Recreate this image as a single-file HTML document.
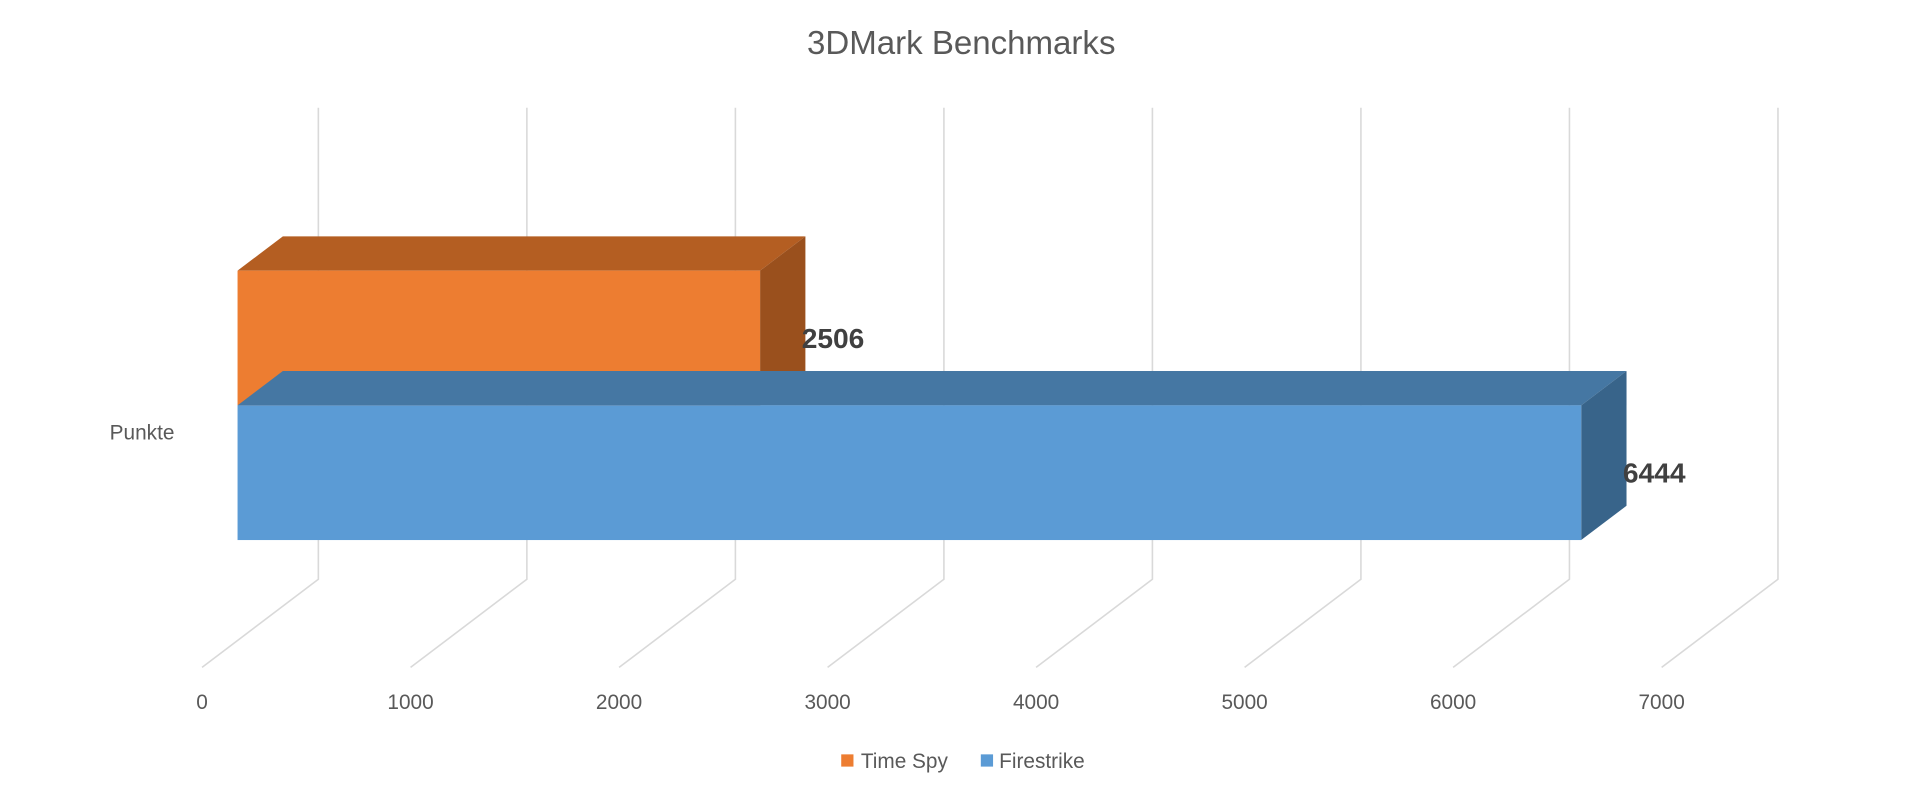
<!DOCTYPE html>
<html><head><meta charset="utf-8"><style>
html,body{margin:0;padding:0;background:#fff;}
svg{display:block;font-family:"Liberation Sans",sans-serif;}
</style></head><body>
<svg id="chart" width="1920" height="796" viewBox="0 0 1568 650" preserveAspectRatio="none" xmlns="http://www.w3.org/2000/svg">
<text x="785" y="44" text-anchor="middle" font-size="27" fill="#595959">3DMark Benchmarks</text>
<g id="grid"></g>
<g id="ticks"></g>
<g id="bars"></g>
<text x="116" y="359" text-anchor="middle" font-size="17" fill="#595959">Punkte</text>
<g>
<rect x="687" y="616" width="10" height="10" fill="#ED7D31"/>
<text x="703" y="627" font-size="17" fill="#595959">Time Spy</text>
<rect x="801" y="616" width="10" height="10" fill="#5B9BD5"/>
<text x="816" y="627" font-size="17" fill="#595959">Firestrike</text>
</g>
</svg>
<script>
const ticks = [0,1000,2000,3000,4000,5000,6000,7000];
const series = ["Time Spy","Firestrike"];
const values = [2506,6444];
const NS="http://www.w3.org/2000/svg";
const x0=165, pxPer=1192/7000, dx=95, dy=-72;
function xs(v){return x0+v*pxPer;}
function mk(t,a,p){const e=document.createElementNS(NS,t);for(const k in a)e.setAttribute(k,a[k]);p.appendChild(e);return e;}
const grid=document.getElementById('grid'), tk=document.getElementById('ticks'), bars=document.getElementById('bars');
ticks.forEach(v=>{
 const x=xs(v);
 const l=mk('polyline',{points:`${x},545 ${x+dx},${545+dy} ${x+dx},88`,fill:'none',stroke:'#d9d9d9','stroke-width':1.3},grid);
 
 
 const t=mk('text',{x:x,y:579,'text-anchor':'middle','font-size':17,fill:'#595959'},tk);
 t.textContent=v;
 
 
});
const cols=[["#ED7D31","#B45E22","#9A501D"],["#5B9BD5","#4577A3","#38648A"]];
const bx=29, bdx=37, bdy=-28, tops=[221,331], h=110;
values.forEach((v,i)=>{
 const L=xs(0)+bx, R=xs(v)+bx, T=tops[i], B=T+h;
 const g=mk('g',{},bars);
 
 
 mk('polygon',{points:`${L},${T} ${L+bdx},${T+bdy} ${R+bdx},${T+bdy} ${R},${T}`,fill:cols[i][1]},g);
 mk('polygon',{points:`${R},${T} ${R+bdx},${T+bdy} ${R+bdx},${B+bdy} ${R},${B}`,fill:cols[i][2]},g);
 mk('rect',{x:L,y:T,width:R-L,height:h,fill:cols[i][0]},g);
 const t=mk('text',{x:R+bdx-3,y:T+h/2+8,'font-size':23,'font-weight':'bold',fill:'#404040'},bars);
 t.textContent=v;
 
 
});
</script>
</body></html>
